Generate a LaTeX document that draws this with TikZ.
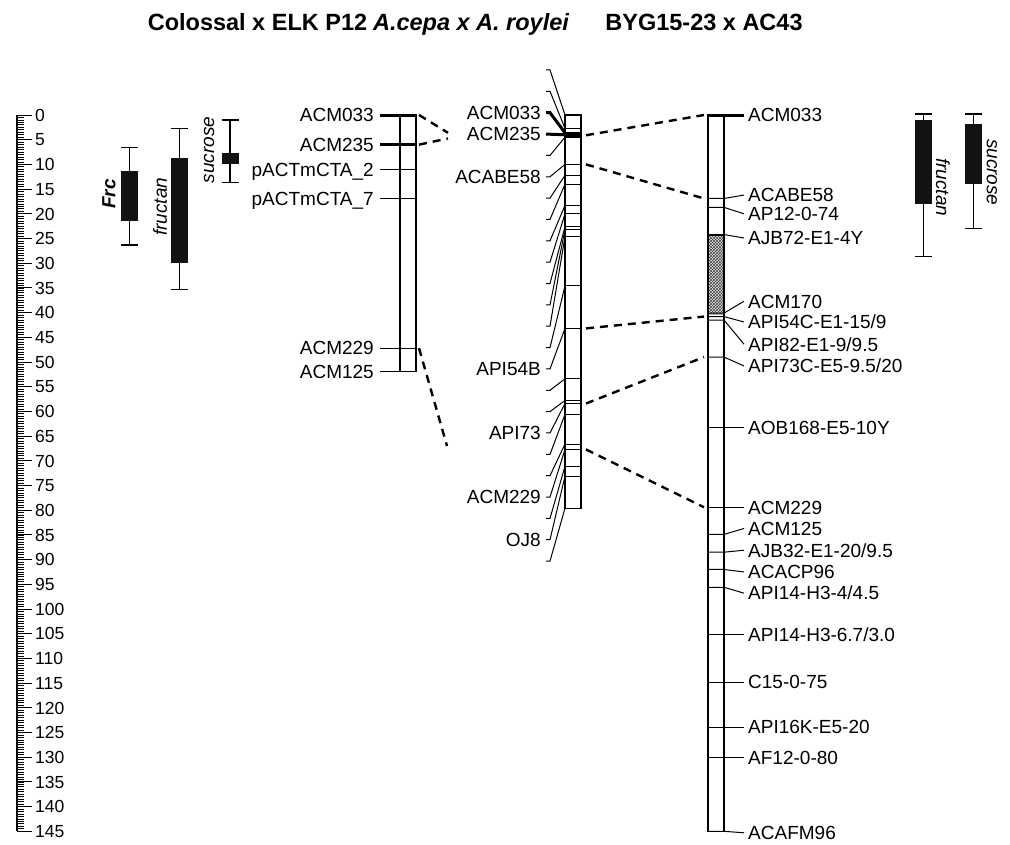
\documentclass[tikz,border=0pt]{standalone}
\usepackage{fontspec}
\setmainfont{Liberation Sans}
\usetikzlibrary{patterns}
\tikzset{
  chrom/.style={draw, line width=1.2pt, fill=white},
  mk/.style={line width=1pt},
  mkthick/.style={line width=3pt},
  lnk/.style={line width=2.4pt, dash pattern=on 8pt off 6pt},
  lbl/.style={font=\fontsize{19}{22}\selectfont, inner sep=0pt,
              text height=13.6pt, text depth=0pt},
  rlbl/.style={font=\fontsize{17.5}{20}\selectfont, inner sep=0pt,
               text height=12.5pt, text depth=0pt, anchor=west},
  qlbl/.style={font=\fontsize{19}{22}\selectfont\itshape, inner sep=0pt},
  ttl/.style={font=\fontsize{23.5}{26}\selectfont\bfseries, anchor=base, inner sep=0pt},
  qbox/.style={fill=black!93},
  qwhisk/.style={line width=1.2pt}
}

\begin{document}
\begin{tikzpicture}[x=1pt, y=-4.94pt]
\useasboundingbox (0,-23.279) rectangle (1010,147.571);
% titles
\node[ttl] (ttlA) at (257.5,-17.1) {Colossal x ELK P12};
\node[ttl] (ttlB) at (471,-17.1) {\itshape A.cepa x A. roylei};
\node[ttl] (ttlC) at (704,-17.1) {BYG15-23 x AC43};

% scale in cM
\draw[line width=1.2pt] (17,0) -- (17,145);
\foreach \k in {0,...,290}
  \draw[line width=0.8pt] (17,\k/2) -- (24,\k/2);
\foreach \v in {0,5,...,145} {
  \draw[line width=1pt] (17,\v) -- (32,\v);
  \node[rlbl] (tick\v) at (35,\v) {\v};
}

% QTL bars
\foreach \x/\wa/\ba/\bb/\wb in {129.5/6.5/11.4/21.5/26.3, 179.5/2.8/8.7/29.9/35.4,
    230/1/7.7/9.9/13.6, 923.5/-0.2/1/18.1/28.7, 973.5/-0.2/1.8/14/22.9} {
  \draw[qwhisk] (\x,\wa) -- (\x,\wb);
  \draw[qwhisk] (\x-8.5,\wa) -- (\x+8.5,\wa);
  \draw[qwhisk] (\x-8.5,\wb) -- (\x+8.5,\wb);
  \fill[qbox] (\x-8.5,\ba) rectangle (\x+8.5,\bb);
}
\node[qlbl, rotate=90] (frc) at (109,16) {\bfseries Frc};
\node[qlbl, rotate=90] (fruL) at (160,18.6) {fructan};
\node[qlbl, rotate=90] (sucL) at (209,7.1) {sucrose};
\node[qlbl, rotate=-90] (fruR) at (943,14.6) {fructan};
\node[qlbl, rotate=-90] (sucR) at (992,11.6) {sucrose};

% Colossal x ELK P12
\draw[chrom] (400,0) rectangle (416,52);
\draw[mkthick] (380,0) -- (416,0);
\draw[mkthick] (380,6) -- (416,6);
\foreach \m/\lab [count=\i] in {0/ACM033, 6/ACM235, 11.1/pACTmCTA\_2,
    17/pACTmCTA\_7, 47.2/ACM229, 52/ACM125} {
  \draw[mk] (380,\m) -- (416,\m);
  \node[lbl, anchor=east] (lm\i) at (374,\m) {\lab};
}

% A.cepa x A. roylei
\draw[chrom] (565,0) rectangle (581,79.6);
\fill (565,3.5) rectangle (581,4.6);
\foreach \i/\m in {1/0, 2/2.7, 3/3.6, 4/4.0, 5/4.5, 6/10.0, 7/12.2, 8/14.0,
    9/18.3, 10/20.0, 11/22.6, 12/23.2, 13/24.6, 14/34.6, 15/43.2, 16/53.4,
    17/57.8, 18/58.4, 19/60.6, 20/66.6, 21/67.7, 22/71.1, 23/73.1, 24/79.6} {
  \pgfmathsetmacro\s{-9.11+4.322*(\i-1)}
  \draw[mk] (565,\m) -- (581,\m);
  \draw[mk] (546,\s) -- (550,\s) -- (565,\m);
}
\draw[mkthick] (546,-0.47) -- (550,-0.47) -- (565,3.6);
\draw[mkthick] (546,3.86) -- (565,4.0);
\foreach \i/\lab in {3/ACM033, 4/ACM235, 6/ACABE58, 15/API54B, 18/API73,
    21/ACM229, 23/OJ8} {
  \pgfmathsetmacro\s{-9.11+4.322*(\i-1)}
  \node[lbl, anchor=east] (cm\i) at (541,\s) {\lab};
}

% BYG15-23 x AC43
\draw[chrom] (708,0) rectangle (724,145);
\fill[gray!20] (708,24.2) rectangle (724,40.1);
\fill[pattern=crosshatch, pattern color=black!75] (708,24.2) rectangle (724,40.1);
\fill[gray!70] (708,40.1) rectangle (724,40.5);
\draw[line width=1.2pt] (708,0) rectangle (724,145);
\draw[mkthick] (708,0) -- (744,0);
\draw[line width=2pt] (708,24.2) -- (724,24.2);
\foreach \m/\l/\lab [count=\i] in {0/0/ACM033, 16.9/16.2/ACABE58, 18.7/20.0/AP12-0-74,
    24.2/24.9/AJB72-E1-4Y, 40.1/37.7/ACM170, 40.8/41.9/{API54C-E1-15/9},
    41.5/46.4/{API82-E1-9/9.5}, 49.0/50.8/{API73C-E5-9.5/20},
    63.2/63.2/AOB168-E5-10Y, 79.4/79.4/ACM229, 84.9/83.7/ACM125,
    88.5/88.1/{AJB32-E1-20/9.5}, 92.0/92.5/ACACP96, 95.6/96.8/{API14-H3-4/4.5},
    105.1/105.1/{API14-H3-6.7/3.0}, 114.8/114.8/C15-0-75,
    123.9/123.9/API16K-E5-20, 130.1/130.1/AF12-0-80, 145/145.3/ACAFM96} {
  \draw[mk] (708,\m) -- (724,\m) -- (744,\l);
  \node[lbl, anchor=west] (rm\i) at (748,\l) {\lab};
}

% links between maps
\coordinate (L033) at (419,0);
\coordinate (L235) at (419,6);
\coordinate (L229) at (419,47.2);
\coordinate (M033in) at (448,3.6);
\coordinate (M235in) at (448,4.75);
\coordinate (M229in) at (447,67);
\coordinate (M235) at (586,4.1);
\coordinate (MABE58) at (586,10);
\coordinate (M54B) at (586,43.2);
\coordinate (M73) at (586,58.4);
\coordinate (M229) at (586,67.7);
\coordinate (R033) at (704,0);
\coordinate (RABE58) at (704,16.9);
\coordinate (R54C) at (704,40.8);
\coordinate (R73C) at (704,49);
\coordinate (R229) at (704,79.4);
\draw[lnk] (L033) -- (M033in);
\draw[lnk] (L235) -- (M235in);
\draw[lnk] (L229) -- (M229in);
\draw[lnk] (M235) -- (R033);
\draw[lnk] (MABE58) -- (RABE58);
\draw[lnk] (M54B) -- (R54C);
\draw[lnk] (M73) -- (R73C);
\draw[lnk] (M229) -- (R229);
\end{tikzpicture}
\end{document}
